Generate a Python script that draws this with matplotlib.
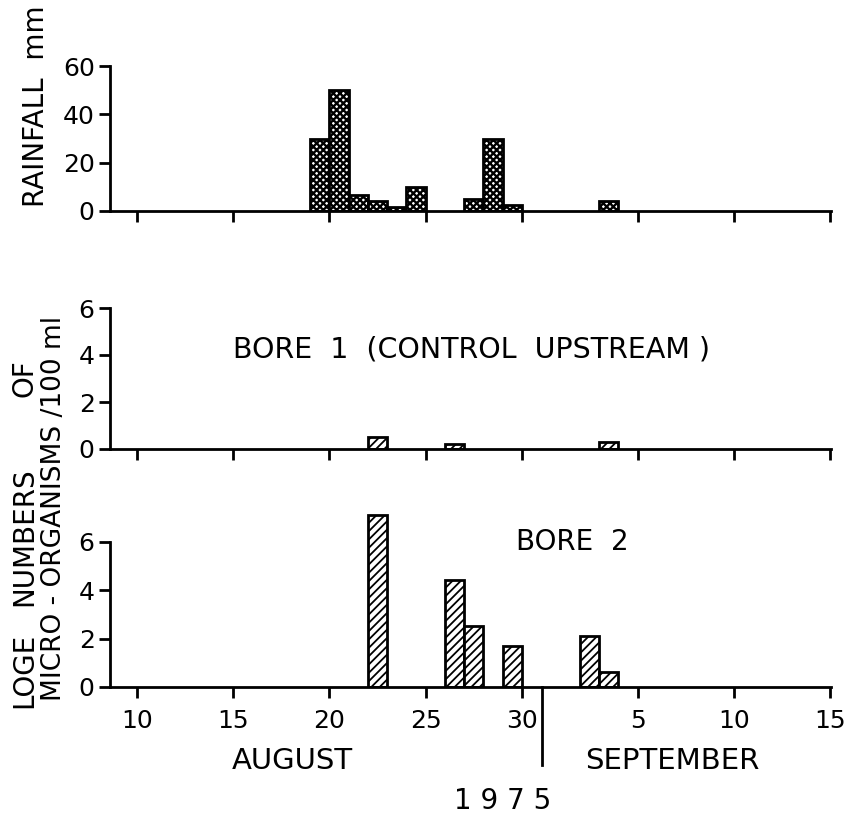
import numpy as np
import matplotlib
matplotlib.use('Agg')
import matplotlib.pyplot as plt
import matplotlib.transforms as mtransforms

# day numbers run on from August: Aug 31 = 31, Sep 1 = 32 ...
tick_days = [10, 15, 20, 25, 30, 36, 41, 46]
tick_labels = ['10', '15', '20', '25', '30', '5', '10', '15']

rain_days = [19, 20, 21, 22, 23, 24, 27, 28, 29, 34]
rain_mm = [30, 50, 6.5, 4, 1.5, 10, 5, 30, 2.5, 4]

bore1_days = [22, 26, 34]
bore1_vals = [0.5, 0.2, 0.3]

bore2_days = [22, 26, 27, 29, 33, 34]
bore2_vals = [7.1, 4.4, 2.5, 1.7, 2.1, 0.6]

W, H = 845, 817
plt.rcParams['hatch.linewidth'] = 1.3
plt.rcParams['font.family'] = 'DejaVu Sans'

fig = plt.figure(figsize=(W / 100, H / 100), dpi=100)


def px_axes(left, top, right, bottom):
    # axes box from pixel edges
    return fig.add_axes([left / W, 1 - bottom / H, (right - left) / W, (bottom - top) / H])


def style(ax, ymax_tick, yticks, labels=False):
    ax.set_xlim(8.6, 46.05)
    for s in ['top', 'right']:
        ax.spines[s].set_visible(False)
    ax.spines['left'].set_linewidth(2)
    ax.spines['bottom'].set_linewidth(2)
    ax.spines['left'].set_bounds(0, ymax_tick)
    ax.set_yticks(yticks)
    ax.set_xticks(tick_days)
    if labels:
        ax.set_xticklabels(tick_labels)
    else:
        ax.set_xticklabels([])
    ax.tick_params(axis='both', direction='out', length=8, width=2, labelsize=18, pad=3)
    ax.tick_params(axis='x', pad=8)


# rainfall
ax1 = px_axes(110, 66, 831, 211)
with plt.rc_context({'hatch.linewidth': 1.7}):
    ax1.bar(rain_days, rain_mm, width=1, align='edge', color='white', edgecolor='black',
            linewidth=2, hatch='xxxxx')
ax1.set_ylim(0, 60)
style(ax1, 60, [0, 20, 40, 60])

# bore 1
ax2 = px_axes(110, 308, 831, 449)
ax2.bar(bore1_days, bore1_vals, width=1, align='edge', color='white', edgecolor='black',
        linewidth=2, hatch='////')
ax2.set_ylim(0, 6)
style(ax2, 6, [0, 2, 4, 6])
ax2.text(472 / W, 1 - 349 / H, 'BORE  1  (CONTROL  UPSTREAM )', transform=fig.transFigure,
         ha='center', va='center', fontsize=20.5)

# bore 2
ax3 = px_axes(110, 510, 831, 687)
ax3.bar(bore2_days, bore2_vals, width=1, align='edge', color='white', edgecolor='black',
        linewidth=2, hatch='////')
ax3.set_ylim(0, 7.3)
style(ax3, 6, [0, 2, 4, 6], labels=True)
ax3.text(572 / W, 1 - 542 / H, 'BORE  2', transform=fig.transFigure,
         ha='center', va='center', fontsize=20)

# month divider below the axis
trans = mtransforms.blended_transform_factory(ax3.transData, ax3.transAxes)
ax3.plot([31.05, 31.05], [0, -78 / 177], color='black', lw=2, transform=trans, clip_on=False)

fig.text(292 / W, 1 - 761 / H, 'AUGUST', ha='center', va='center', fontsize=21)
fig.text(672 / W, 1 - 761 / H, 'SEPTEMBER', ha='center', va='center', fontsize=21)
fig.text(503 / W, 1 - 801 / H, '1 9 7 5', ha='center', va='center', fontsize=20)

# y labels
fig.text(36 / W, 1 - 106 / H, 'RAINFALL  mm', rotation=90, ha='center', va='center', fontsize=20)
fig.text(24 / W, 1 - 670 / H, 'LOGE', rotation=90, ha='center', va='center', fontsize=20)
fig.text(24 / W, 1 - 537 / H, 'NUMBERS', rotation=90, ha='center', va='center', fontsize=20)
fig.text(25 / W, 1 - 378 / H, 'OF', rotation=90, ha='center', va='center', fontsize=20)
fig.text(54 / W, 1 - 508 / H, 'MICRO - ORGANISMS /100 ml', rotation=90, ha='center',
         va='center', fontsize=19)

fig.savefig('out.png', dpi=100)
